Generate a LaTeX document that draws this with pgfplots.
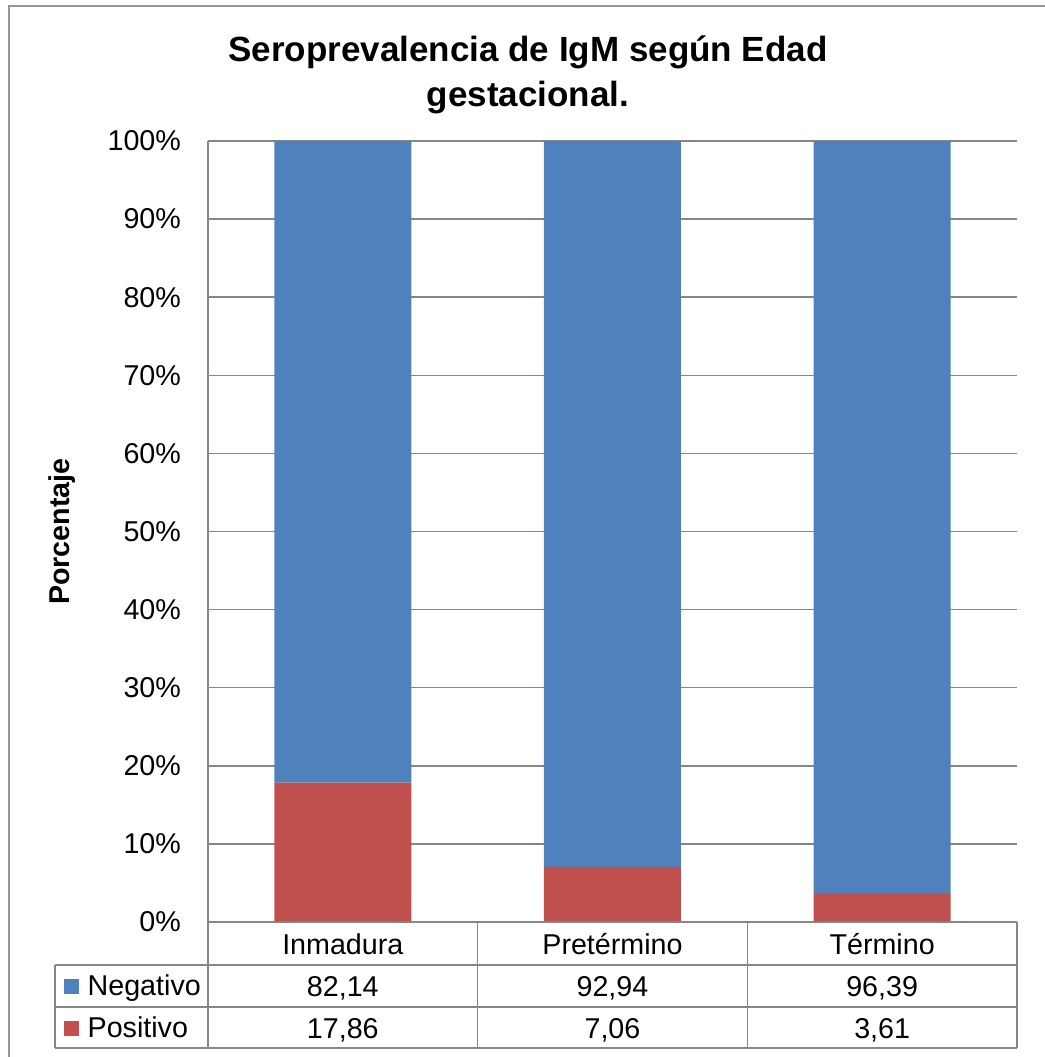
\documentclass[border=0pt]{standalone}
\usepackage{fontspec}
\setmainfont{Liberation Sans}
\usepackage{pgfplots}
\pgfplotsset{compat=1.18}
\definecolor{negblue}{RGB}{79,129,189}
\definecolor{posred}{RGB}{192,80,77}
\definecolor{linegray}{RGB}{134,134,134}
\definecolor{framegray}{RGB}{150,150,150}
% strut so every first line of the data table sits on the same baseline
\newcommand{\tbl}{\rule{0pt}{9.5pt}}

\begin{document}
\begin{tikzpicture}
\begin{axis}[
    name=ax, at={(0,0)}, anchor=south west,
    scale only axis, width=242.7pt, height=234.3pt,
    ybar stacked, bar width=0.508,
    xmin=-0.5, xmax=2.5, ymin=0, ymax=100,
    enlargelimits=false,
    axis lines=left,
    axis line style={-, draw=linegray, line width=0.45pt},
    major tick length=0pt,
    ymajorgrids,
    major grid style={draw=linegray, line width=0.45pt},
    ytick={0,10,...,100},
    yticklabels={0\%,10\%,20\%,30\%,40\%,50\%,60\%,70\%,80\%,90\%,100\%},
    yticklabel style={font=\fontsize{8.6}{10}\selectfont, xshift=-4.6pt},
    xtick={0,1,2},
    xticklabels={{\tbl Inmadura\\82,14\\17,86},{\tbl Pretérmino\\92,94\\7,06},{\tbl Término\\96,39\\3,61}},
    xticklabel style={anchor=north, inner sep=0pt, align=center, font=\fontsize{8.6}{12.6}\selectfont},
    every axis y label/.style={at={(axis description cs:0,0.5)}, rotate=90, anchor=center, yshift=43.8pt, font=\bfseries\fontsize{8.6}{10}\selectfont},
    ylabel={Porcentaje},
    title={Seroprevalencia de IgM según Edad\\gestacional.},
    title style={at={(axis description cs:0,1)}, anchor=center, xshift=96pt, yshift=13.9pt, align=center, font=\bfseries\fontsize{10.5}{13.5}\selectfont},
    legend image code/.code={\fill[#1] (0pt,-2.25pt) rectangle (4.5pt,2.25pt);},
    reverse legend,
    legend style={at={(axis description cs:0,0)}, anchor=north west, xshift=-43.2pt, yshift=-12.9pt,
        draw=none, fill=none, inner sep=0pt, outer sep=0pt, row sep=0pt,
        font=\fontsize{8.6}{10}\selectfont, cells={anchor=west},
        nodes={inner sep=0pt, text height=9.15pt, text depth=3.45pt},
        /tikz/every odd column/.append style={column sep=2.6pt}},
]
\addplot[fill=posred, draw=none] coordinates {(0,17.86) (1,7.06) (2,3.61)};
\addplot[fill=negblue, draw=none] coordinates {(0,82.14) (1,92.94) (2,96.39)};
\legend{Positivo,Negativo}
\end{axis}
% data table grid under the plot
\draw[linegray, line width=0.45pt]
    (0,0) -- (242.7pt,0)
    (-45.9pt,-12.9pt) -- (242.7pt,-12.9pt)
    (-45.9pt,-25.5pt) -- (242.7pt,-25.5pt)
    (-45.9pt,-37.8pt) -- (242.7pt,-37.8pt)
    (-45.9pt,-12.9pt) -- (-45.9pt,-37.8pt)
    (0,0) -- (0,-37.8pt)
    (80.9pt,0) -- (80.9pt,-37.8pt)
    (161.8pt,0) -- (161.8pt,-37.8pt)
    (242.7pt,0) -- (242.7pt,-37.8pt);
% chart area frame
\draw[framegray, line width=0.6pt] (-59.7pt,-50pt) -- (-59.7pt,274.8pt) -- (270pt,274.8pt);
\pgfresetboundingbox
\useasboundingbox (-62.4pt,-40.5pt) rectangle (251.1pt,276.6pt);
\end{tikzpicture}
\end{document}
